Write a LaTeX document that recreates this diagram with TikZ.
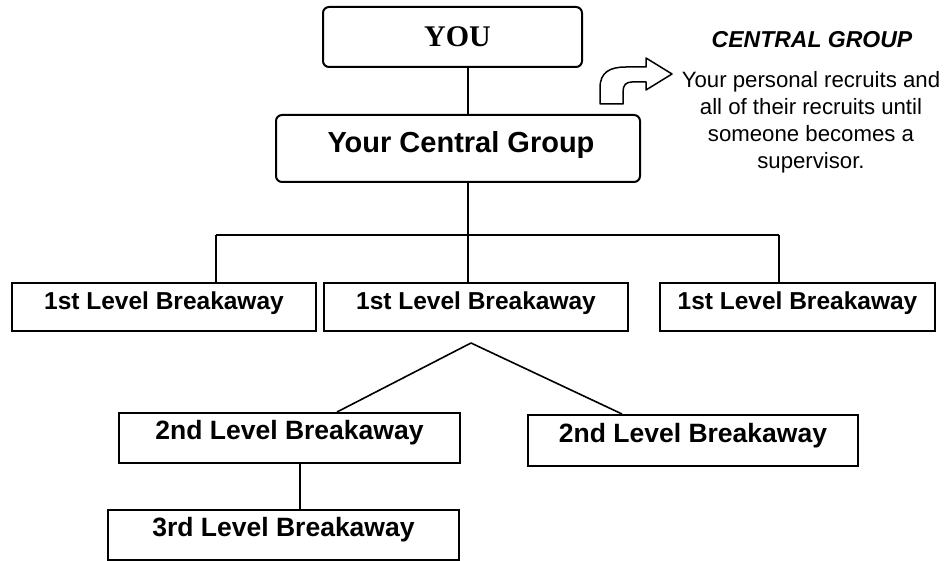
\documentclass[tikz,border=0pt]{standalone}
\usepackage{fontspec}
\setmainfont{Liberation Sans}
\newfontfamily\youfont{Liberation Serif}
\begin{document}
\begin{tikzpicture}[x=1pt,y=-1pt,
  box/.style={draw=black, line width=2pt, rectangle, inner sep=0pt, font=\bfseries\fontsize{24.5}{28}\selectfont, text height=18pt, text depth=13pt},
  bigbox/.style={box, font=\bfseries\fontsize{26.5}{30}\selectfont, text height=19.3pt, text depth=15.5pt},
  rbox/.style={box, rounded corners=6pt},
  conn/.style={draw=black, line width=1.6pt},
  shape arrow/.style={draw=black, line width=1.5pt, line join=round}]
\useasboundingbox (0,0) rectangle (946,561);
\fill[white] (0,0) rectangle (946,561);

% nodes
\node[rbox, minimum width=259pt, minimum height=60pt, font=\youfont\bfseries\fontsize{30}{34}\selectfont, text height=20pt, text depth=1pt] (you) at (452.5,37) {\hspace*{10pt}YOU};
\node[rbox, minimum width=364pt, minimum height=67pt, font=\bfseries\fontsize{29}{33}\selectfont, text height=21.2pt, text depth=12.2pt] (cg) at (458,148.5) {\hspace*{6pt}Your Central Group};

\node[box, minimum width=304pt, minimum height=48pt] (l1a) at (164,307) {1st Level Breakaway};
\node[box, minimum width=304pt, minimum height=48pt] (l1b) at (476,307) {1st Level Breakaway};
\node[box, minimum width=275pt, minimum height=48pt] (l1c) at (797.5,307) {1st Level Breakaway};

\node[bigbox, minimum width=341pt, minimum height=50pt] (l2a) at (289.5,438) {2nd Level Breakaway};
\node[bigbox, minimum width=330pt, minimum height=51pt] (l2b) at (693,440.5) {2nd Level Breakaway};
\node[bigbox, minimum width=351pt, minimum height=50pt] (l3) at (283.5,535) {3rd Level Breakaway};

\node[font=\bfseries\itshape\fontsize{23}{27}\selectfont] (cgtitle) at (812,40) {CENTRAL GROUP};
\node[align=center, font=\fontsize{22.2}{27}\selectfont] (cgdesc) at (811,122.5) {Your personal recruits and\\all of their recruits until\\someone becomes a\\supervisor.};

% junction coordinates
\coordinate (trunk) at (468,235);
\coordinate (hl) at (216,235);
\coordinate (hr) at (779,235);
\coordinate (apex) at (471,343);
\coordinate (dl) at (337,413);
\coordinate (dr) at (622,415);
\coordinate (v3) at (300,0);

% connectors
\draw[conn] (you.south -| trunk) -- (cg.north -| trunk);
\draw[conn] (cg.south -| trunk) -- (trunk);
\draw[conn] (hl) -- (hr);
\draw[conn] (hl) -- (hl |- l1a.north);
\draw[conn] (trunk) -- (trunk |- l1b.north);
\draw[conn] (hr) -- (hr |- l1c.north);
\draw[conn] (apex) -- (dl |- l2a.north);
\draw[conn] (apex) -- (dr |- l2b.north);
\draw[conn] (v3 |- l2a.south) -- (v3 |- l3.north);

% curved block arrow
\draw[shape arrow] (600,104) -- (600,88) .. controls (600,72) and (610,67) .. (626,67) -- (646,67) -- (646,58) -- (672,74) -- (646,90) -- (646,82) -- (632,82) .. controls (626,82) and (623,85) .. (623,92) -- (623,104) -- cycle;
\end{tikzpicture}
\end{document}
